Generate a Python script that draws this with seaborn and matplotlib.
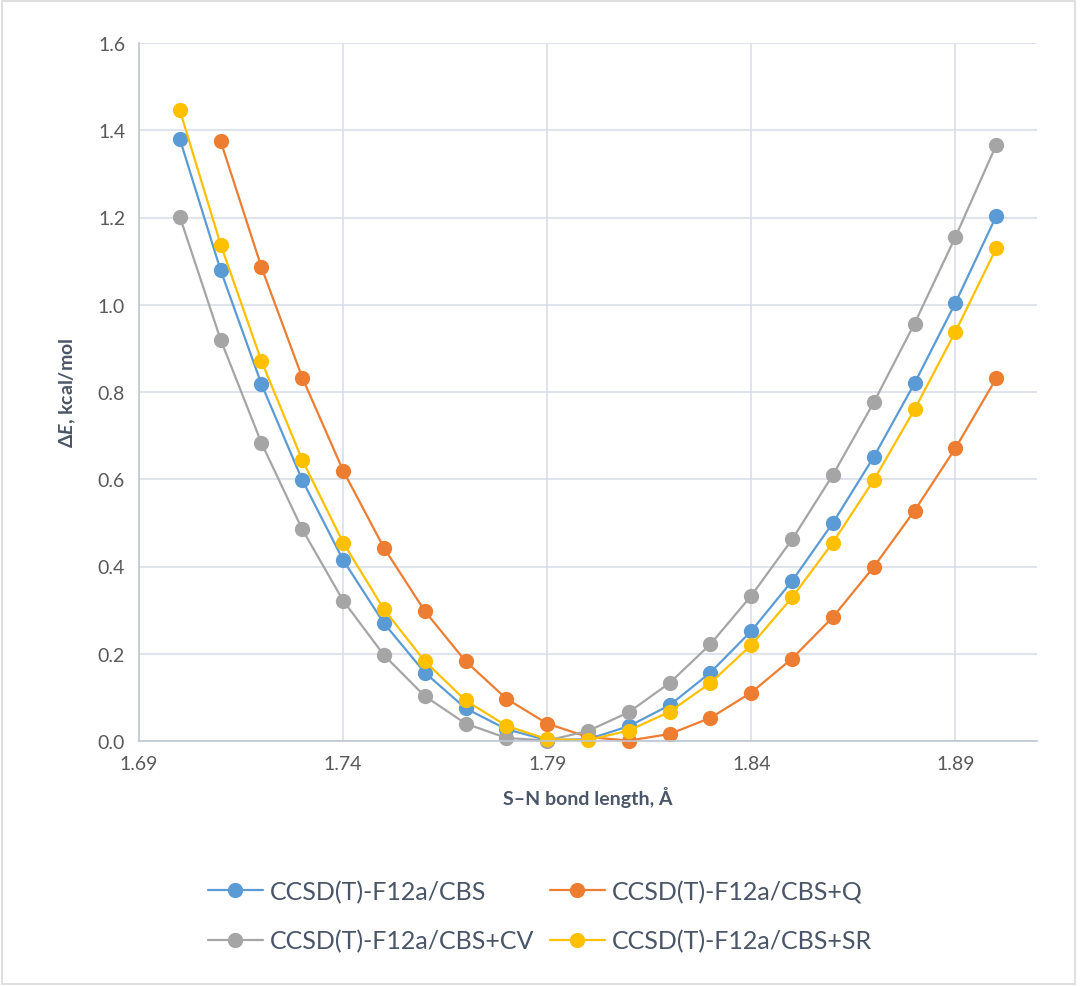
import numpy as np
import pandas as pd
import seaborn as sns
import matplotlib.pyplot as plt
from matplotlib.patches import Rectangle

bond_length = [1.70, 1.71, 1.72, 1.73, 1.74, 1.75, 1.76, 1.77, 1.78, 1.79, 1.80,
               1.81, 1.82, 1.83, 1.84, 1.85, 1.86, 1.87, 1.88, 1.89, 1.90]

cbs = [1.380, 1.079, 0.818, 0.598, 0.415, 0.270, 0.157, 0.075, 0.027, 0.002, 0.004,
       0.034, 0.082, 0.157, 0.252, 0.367, 0.500, 0.651, 0.820, 1.004, 1.203]
cbs_q = [np.nan, 1.375, 1.086, 0.833, 0.620, 0.443, 0.298, 0.183, 0.097, 0.040, 0.009,
         0.001, 0.016, 0.053, 0.111, 0.189, 0.284, 0.399, 0.528, 0.671, 0.831]
cbs_cv = [1.202, 0.920, 0.683, 0.485, 0.322, 0.197, 0.103, 0.040, 0.007, 0.001, 0.023,
          0.066, 0.133, 0.222, 0.333, 0.462, 0.610, 0.776, 0.957, 1.155, 1.366]
cbs_sr = [1.446, 1.138, 0.871, 0.644, 0.455, 0.302, 0.183, 0.093, 0.035, 0.004, 0.002,
          0.024, 0.067, 0.133, 0.220, 0.329, 0.455, 0.598, 0.760, 0.938, 1.129]

series_names = ["CCSD(T)-F12a/CBS", "CCSD(T)-F12a/CBS+Q",
                "CCSD(T)-F12a/CBS+CV", "CCSD(T)-F12a/CBS+SR"]
colors = ["#5B9BD5", "#ED7D31", "#A5A5A5", "#FFC000"]

frames = []
for name, vals in zip(series_names, [cbs, cbs_q, cbs_cv, cbs_sr]):
    frames.append(pd.DataFrame({"x": bond_length, "y": vals, "series": name}))
df = pd.concat(frames).dropna()

sns.set_style("white")
plt.rcParams['font.family'] = ['Lato', 'DejaVu Sans']
plt.rcParams['mathtext.fontset'] = 'custom'
plt.rcParams['mathtext.it'] = 'Lato:bold:italic'
plt.rcParams['mathtext.rm'] = 'Lato:bold'

text_col = "#4A5568"
tick_col = "#595959"
grid_col = "#D9DEE8"

fig = plt.figure(figsize=(10.8, 9.87), dpi=100)
ax = fig.add_axes([139 / 1080, 245 / 987, (1037 - 139) / 1080, (742 - 44) / 987])

sns.lineplot(data=df, x="x", y="y", hue="series", hue_order=series_names,
             palette=colors, marker="o", markersize=11, markeredgewidth=0,
             linewidth=1.6, ax=ax, legend=False, sort=True)
for line in ax.lines:
    line.set_clip_on(False)

ax.set_xlim(1.69, 1.91)
ax.set_ylim(0, 1.6)
ax.set_xticks([1.69, 1.74, 1.79, 1.84, 1.89])
ax.set_xticklabels(["1.69", "1.74", "1.79", "1.84", "1.89"])
ax.set_yticks(np.arange(0, 1.61, 0.2))
ax.set_yticklabels([f"{v:.1f}" for v in np.arange(0, 1.61, 0.2)])
ax.grid(True, color=grid_col, linewidth=1.2)
ax.set_axisbelow(True)
for side in ["top", "right"]:
    ax.spines[side].set_visible(False)
for side in ["left", "bottom"]:
    ax.spines[side].set_color("#BFC6D4")
    ax.spines[side].set_linewidth(1.2)
ax.tick_params(axis="both", length=0, labelsize=14, labelcolor=tick_col, pad=10)

ax.set_xlabel("S–N bond length, Å", fontsize=14, fontweight="bold", color=text_col, labelpad=10)
ax.set_ylabel(r"$\Delta\mathit{E}$, kcal/mol", fontsize=14, fontweight="bold", color=text_col, labelpad=14)

# legend: rows CBS / Q, then CV / SR
handles = [plt.Line2D([], [], color=c, marker="o", markersize=11, markeredgewidth=0,
                      linewidth=1.6) for c in colors]
order = [0, 2, 1, 3]
fig.legend([handles[i] for i in order], [series_names[i] for i in order],
           ncol=2, loc="center", bbox_to_anchor=(0.5, 1 - 917 / 987), frameon=False,
           fontsize=18, labelcolor=text_col, handlelength=2.2, handletextpad=0.3,
           columnspacing=0.6, labelspacing=1.05)

fig.patches.append(Rectangle((0.002, 0.002), 0.993, 0.996, transform=fig.transFigure,
                             fill=False, edgecolor="#D9D9D9", linewidth=1.2))

fig.savefig("out.png", dpi=100)
